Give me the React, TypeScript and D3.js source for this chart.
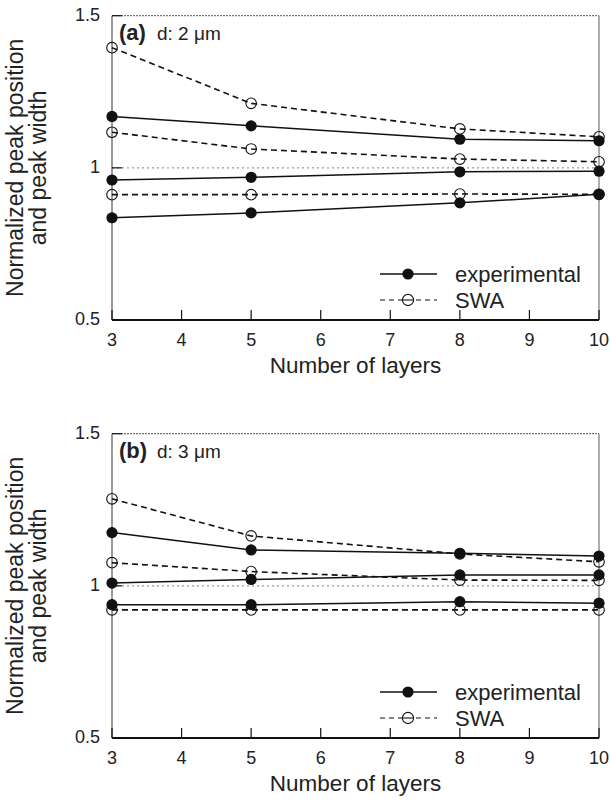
import * as d3 from "d3";

const LAYERS = [3, 5, 8, 10];
const X_TICKS = [3, 4, 5, 6, 7, 8, 9, 10];
const Y_TICKS = [0.5, 1, 1.5];
const Y_TICK_LABELS = ["0.5", "1", "1.5"];

// panel (a), d = 2 um
const A_EXP_HIGH = [1.169, 1.138, 1.094, 1.089];
const A_EXP_MID = [0.96, 0.969, 0.987, 0.989];
const A_EXP_LOW = [0.836, 0.852, 0.885, 0.913];
const A_SWA_HIGH = [1.395, 1.212, 1.128, 1.102];
const A_SWA_MID = [1.117, 1.062, 1.029, 1.02];
const A_SWA_LOW = [0.912, 0.912, 0.914, 0.913];

// panel (b), d = 3 um
const B_EXP_HIGH = [1.175, 1.118, 1.107, 1.098];
const B_EXP_MID = [1.009, 1.021, 1.036, 1.036];
const B_EXP_LOW = [0.938, 0.938, 0.948, 0.943];
const B_SWA_HIGH = [1.286, 1.164, 1.105, 1.079];
const B_SWA_MID = [1.076, 1.047, 1.019, 1.018];
const B_SWA_LOW = [0.921, 0.921, 0.921, 0.921];

const FONT = "'Liberation Sans', Arial, Helvetica, sans-serif";
const LEFT = 112;
const RIGHT = 599;
const TOP = 15.7;
const BOTTOM = 320;

interface PanelProps {
  dy: number;
  label: string;
  note: string;
  exp: number[][];
  swa: number[][];
}

function Panel({ dy, label, note, exp, swa }: PanelProps) {
  const x = d3.scaleLinear().domain([3, 10]).range([LEFT, RIGHT]);
  const y = d3.scaleLinear().domain([0.5, 1.5]).range([BOTTOM + dy, TOP + dy]);
  const line = d3
    .line<number>()
    .x((_, i) => x(LAYERS[i]))
    .y((d) => y(d));
  const y0 = y(0.5);
  const y1 = y(1.5);

  return (
    <g>
      {/* frame */}
      <line x1={LEFT} x2={RIGHT} y1={y1} y2={y1} stroke="#555" strokeWidth={1} strokeDasharray="2,1" />
      <line x1={RIGHT} x2={RIGHT} y1={y1} y2={y0} stroke="#777" strokeWidth={1.2} />
      <line x1={LEFT} x2={LEFT} y1={y1} y2={y0} stroke="#555" strokeWidth={1.2} />
      <line x1={LEFT} x2={RIGHT} y1={y(1)} y2={y(1)} stroke="#999" strokeWidth={1.2} strokeDasharray="2,3" />
      <line x1={LEFT} x2={RIGHT} y1={y0} y2={y0} stroke="#111" strokeWidth={1.8} />

      {X_TICKS.map((t) => (
        <g key={t}>
          <line x1={x(t)} x2={x(t)} y1={y0} y2={y0 - 10} stroke="#111" strokeWidth={1.2} />
          <text x={x(t)} y={y0 + 20} textAnchor="middle" dominantBaseline="central" fontSize={18} fontFamily={FONT} fill="#222">
            {t}
          </text>
        </g>
      ))}
      {Y_TICKS.map((t, i) => (
        <g key={t}>
          <line x1={LEFT} x2={LEFT + 10} y1={y(t)} y2={y(t)} stroke="#111" strokeWidth={1.2} />
          <text x={LEFT - 12} y={y(t) - 1} textAnchor="end" dominantBaseline="central" fontSize={18} fontFamily={FONT} fill="#222">
            {Y_TICK_LABELS[i]}
          </text>
        </g>
      ))}

      {/* series */}
      {swa.map((s, k) => (
        <path key={"sl" + k} d={line(s) ?? ""} fill="none" stroke="#111" strokeWidth={1.6} strokeDasharray="6,4" />
      ))}
      {exp.map((s, k) => (
        <path key={"el" + k} d={line(s) ?? ""} fill="none" stroke="#111" strokeWidth={1.5} />
      ))}
      {swa.map((s, k) =>
        s.map((v, i) => (
          <circle key={`sc${k}-${i}`} cx={x(LAYERS[i])} cy={y(v)} r={5.3} fill="none" stroke="#111" strokeWidth={1.1} />
        ))
      )}
      {exp.map((s, k) =>
        s.map((v, i) => (
          <circle key={`ec${k}-${i}`} cx={x(LAYERS[i])} cy={y(v)} r={5.6} fill="#111" />
        ))
      )}

      {/* panel label */}
      <text x={119} y={40 + dy} fontWeight="bold" fontSize={22} fontFamily={FONT} fill="#222">
        {label}
      </text>
      <text x={157} y={40 + dy} fontSize={19} fontFamily={FONT} fill="#222">
        {note}
      </text>

      {/* legend */}
      <line x1={380} x2={437} y1={274 + dy} y2={274 + dy} stroke="#111" strokeWidth={1.5} />
      <circle cx={408} cy={274 + dy} r={5.6} fill="#111" />
      <text x={455} y={274 + dy} dominantBaseline="central" fontSize={22} fontFamily={FONT} fill="#222">
        experimental
      </text>
      <line x1={380} x2={437} y1={300 + dy} y2={300 + dy} stroke="#111" strokeWidth={1.1} strokeDasharray="5,4" />
      <circle cx={408} cy={300 + dy} r={5.6} fill="white" stroke="#111" strokeWidth={1.1} />
      <line x1={403} x2={413} y1={300 + dy} y2={300 + dy} stroke="#111" strokeWidth={1.1} />
      <text x={455} y={300 + dy} dominantBaseline="central" fontSize={22} fontFamily={FONT} fill="#222">
        SWA
      </text>

      {/* axis titles */}
      <text x={(LEFT + RIGHT) / 2} y={y0 + 45} textAnchor="middle" dominantBaseline="central" fontSize={22.5} fontFamily={FONT} fill="#222">
        Number of layers
      </text>
      <g transform={`translate(15, ${(y0 + y1) / 2}) rotate(-90)`}>
        <text x={0} y={0} textAnchor="middle" dominantBaseline="central" fontSize={23} fontFamily={FONT} fill="#222">
          Normalized peak position
        </text>
      </g>
      <g transform={`translate(38, ${(y0 + y1) / 2}) rotate(-90)`}>
        <text x={0} y={0} textAnchor="middle" dominantBaseline="central" fontSize={23} fontFamily={FONT} fill="#222">
          and peak width
        </text>
      </g>
    </g>
  );
}

export default function App() {
  return (
    <svg
      width={610}
      height={807}
      viewBox="0 0 610 807"
      style={{ position: "absolute", left: 0, top: 0, background: "white" }}
    >
      <Panel
        dy={0}
        label="(a)"
        note="d: 2 μm"
        exp={[A_EXP_HIGH, A_EXP_MID, A_EXP_LOW]}
        swa={[A_SWA_HIGH, A_SWA_MID, A_SWA_LOW]}
      />
      <Panel
        dy={418}
        label="(b)"
        note="d: 3 μm"
        exp={[B_EXP_HIGH, B_EXP_MID, B_EXP_LOW]}
        swa={[B_SWA_HIGH, B_SWA_MID, B_SWA_LOW]}
      />
    </svg>
  );
}
